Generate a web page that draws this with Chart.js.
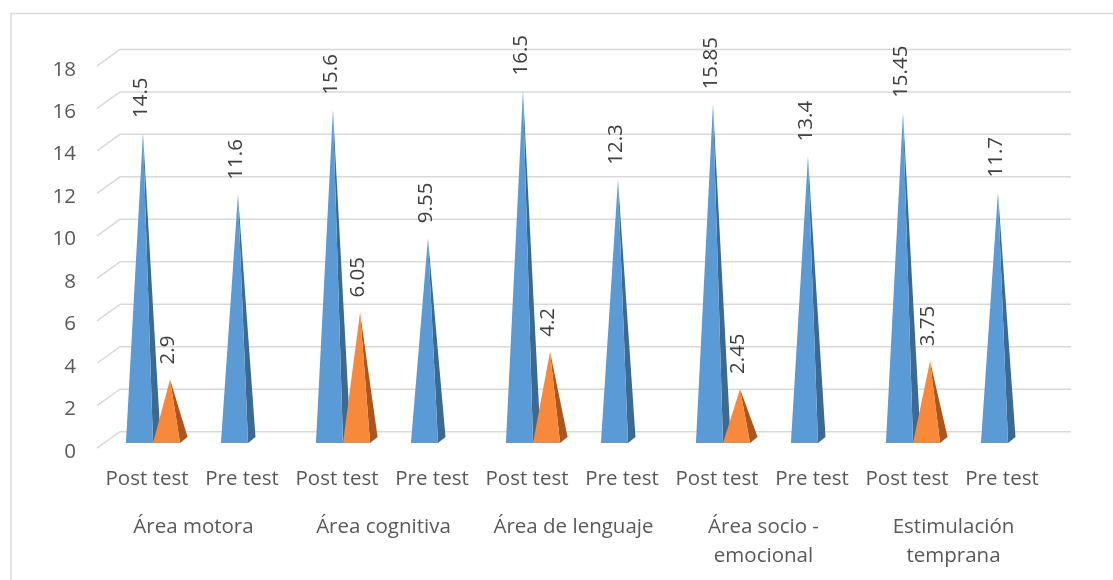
<!DOCTYPE html>
<html>
<head>
<meta charset="utf-8">
<script src="https://cdn.jsdelivr.net/npm/chart.js@4.4.1/dist/chart.umd.min.js"></script>
<style>
  body { margin: 0; background: #fff; }
  canvas { display: block; }
</style>
</head>
<body>
<canvas id="chart" width="1113" height="580"></canvas>
<script>
var categories = ["Post test", "Pre test", "Post test", "Pre test", "Post test", "Pre test",
                  "Post test", "Pre test", "Post test", "Pre test"];
var groups = ["Área motora", "Área cognitiva", "Área de lenguaje",
              ["Área socio -", "emocional"], ["Estimulación", "temprana"]];
var blueValues = [14.5, 11.6, 15.6, 9.55, 16.5, 12.3, 15.85, 13.4, 15.45, 11.7];
var orangeValues = [2.9, null, 6.05, null, 4.2, null, 2.45, null, 3.75, null];
var yTicks = [0, 2, 4, 6, 8, 10, 12, 14, 16, 18];

var FONT = "'Open Sans', 'Noto Sans', sans-serif";
var faces = [
    { front: "#5B9BD5", side: "#3E6991" },
    { front: "#F8893A", side: "#A9561F" }
];

// back wall + diagonal gridlines (3D look)
var wallPlugin = {
    id: "wall",
    beforeDatasetsDraw: function(chart) {
        var ctx = chart.ctx, a = chart.chartArea, y = chart.scales.y;
        ctx.save();
        ctx.strokeStyle = "#D9D9D9";
        ctx.lineWidth = 1.5;
        ctx.strokeRect(11, 13.5, 1200, 700);
        yTicks.forEach(function(v) {
            var py = y.getPixelForValue(v) - 11.3;
            ctx.beginPath();
            ctx.moveTo(a.left - 8.5, py + 16.5);
            ctx.lineTo(a.left + 14.5, py);
            ctx.lineTo(a.right + 15.5, py);
            ctx.stroke();
        });
        ctx.restore();
    }
};

// draw the bars as pyramids, with rotated value labels
var pyramidPlugin = {
    id: "pyramids",
    afterDatasetsDraw: function(chart) {
        var ctx = chart.ctx;
        chart.data.datasets.forEach(function(ds, di) {
            var meta = chart.getDatasetMeta(di);
            meta.data.forEach(function(bar, i) {
                var v = ds.data[i];
                if (v === null || v === undefined) return;
                var p = bar.getProps(["x", "y", "base", "width"], true);
                var l = p.x - p.width / 2, r = p.x + p.width / 2;
                var tipX = p.x + 3.5, tipY = p.y - 2;
                ctx.save();
                ctx.fillStyle = faces[di].side;
                ctx.beginPath();
                ctx.moveTo(r, p.base);
                ctx.lineTo(r + 7.5, p.base - 6);
                ctx.lineTo(tipX, tipY);
                ctx.closePath();
                ctx.fill();
                ctx.fillStyle = faces[di].front;
                ctx.beginPath();
                ctx.moveTo(l, p.base);
                ctx.lineTo(r, p.base);
                ctx.lineTo(tipX, tipY);
                ctx.closePath();
                ctx.fill();

                ctx.translate(tipX - 2, tipY - 15);
                ctx.rotate(-Math.PI / 2);
                ctx.fillStyle = "#404040";
                ctx.font = "20.5px " + FONT;
                ctx.textAlign = "left";
                ctx.textBaseline = "middle";
                ctx.fillText(String(v), 0, 0);
                ctx.restore();
            });
        });
    }
};

var ctx = document.getElementById("chart").getContext("2d");
var myChart = new Chart(ctx, {
    type: "bar",
    data: {
        labels: categories,
        datasets: [
            { label: "Serie 1", data: blueValues, backgroundColor: "rgba(0,0,0,0)" },
            { label: "Serie 2", data: orangeValues, backgroundColor: "rgba(0,0,0,0)" }
        ]
    },
    options: {
        responsive: false,
        animation: false,
        categoryPercentage: 0.57,
        barPercentage: 1,
        layout: { padding: { left: 10.5, right: 57.5, top: 60.7, bottom: 0 } },
        plugins: {
            legend: { display: false },
            tooltip: { enabled: false }
        },
        scales: {
            y: {
                min: 0,
                max: 18,
                afterFit: function(s) { s.width = 95; },
                afterBuildTicks: function(s) {
                    s.ticks = yTicks.map(function(v) { return { value: v }; });
                },
                grid: { display: false, drawTicks: false },
                border: { display: false },
                ticks: {
                    padding: 29.5,
                    labelOffset: 9,
                    color: "#595959",
                    font: { family: FONT, size: 20.5 }
                }
            },
            x: {
                weight: 0,
                afterFit: function(s) { s.height = 47; },
                grid: { display: false, drawTicks: false },
                border: { display: false },
                ticks: {
                    padding: 24,
                    labelOffset: -6,
                    maxRotation: 0,
                    minRotation: 0,
                    autoSkip: false,
                    color: "#595959",
                    font: { family: FONT, size: 20.5 }
                }
            },
            x2: {
                type: "category",
                position: "bottom",
                weight: 1,
                labels: groups,
                offset: true,
                afterFit: function(s) { s.height = 90; },
                grid: { display: false, drawTicks: false },
                border: { display: false },
                ticks: {
                    padding: 22,
                    labelOffset: -7,
                    maxRotation: 0,
                    minRotation: 0,
                    autoSkip: false,
                    color: "#595959",
                    font: { family: FONT, size: 20.5, lineHeight: 1.45 }
                }
            }
        }
    },
    plugins: [wallPlugin, pyramidPlugin]
});
</script>
</body>
</html>
